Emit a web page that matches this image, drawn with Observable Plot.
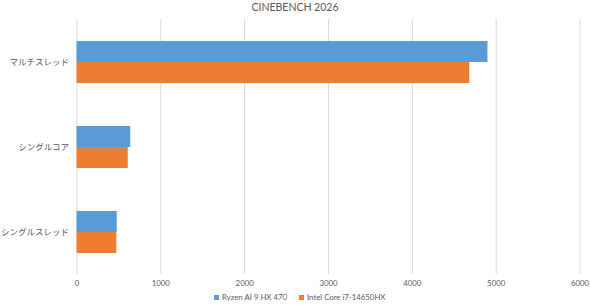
<!DOCTYPE html>
<html><head><meta charset="utf-8">
<script src="https://cdn.jsdelivr.net/npm/d3@7"></script>
<script src="https://cdn.jsdelivr.net/npm/@observablehq/plot@0.6"></script>
<style>
body{margin:0;background:#fff;font-family:Lato,"Noto Sans CJK JP",sans-serif;}
#wrap{position:relative;width:590px;height:305px;}
#title{position:absolute;top:1px;left:0;width:590px;text-align:center;font-size:10.5px;color:#595959;white-space:nowrap;z-index:2;}
#legend{position:absolute;top:292px;left:0;width:590px;font-size:7.8px;color:#595959;white-space:nowrap;z-index:2;}
#legend span.sw{display:inline-block;width:5px;height:5px;margin-right:3px;vertical-align:0px;}
#chart{position:absolute;top:0;left:0;z-index:1;}
</style></head>
<body><div id="wrap"><div id="title">CINEBENCH 2026</div><div id="chart"></div><div id="legend"></div></div>
<script>
const categories = ["マルチスレッド", "シングルコア", "シングルスレッド"];
const series = ["Ryzen AI 9 HX 470", "Intel Core i7-14650HX"];
const ryzen = [4902, 641, 480];
const intel = [4685, 611, 475];
const xTicks = [0, 1000, 2000, 3000, 4000, 5000, 6000];
const colors = ["#5B9BD5", "#ED7D31"];

const data = [];
categories.forEach((c, i) => {
  data.push({cat: c, s: series[0], v: ryzen[i]});
  data.push({cat: c, s: series[1], v: intel[i]});
});

const chart = Plot.plot({
  width: 590, height: 292,
  marginLeft: 76.5, marginRight: 10.5, marginTop: 18, marginBottom: 18,
  style: {fontFamily: 'Lato,"Noto Sans CJK JP",sans-serif', color: "#595959", background: "transparent"},
  x: {domain: [0, 6000], ticks: xTicks, axis: null},
  fy: {domain: categories, padding: 0, axis: null},
  y: {domain: series, paddingInner: 0, paddingOuter: 0.94, axis: null},
  color: {domain: series, range: colors},
  marks: [
    Plot.gridX(xTicks, {stroke: "#d9d9d9", strokeOpacity: 1}),
    Plot.barX(data, {x: "v", y: "s", fy: "cat", fill: "s"}),
    Plot.axisX({ticks: xTicks, anchor: "bottom", tickSize: 0, tickPadding: 6, fontSize: 7.8, label: null, tickFormat: d => String(d)}),
    Plot.axisFy({anchor: "left", tickSize: 0, tickPadding: 8, fontSize: 8.5, label: null})
  ]
});
document.getElementById("chart").appendChild(chart);

const leg = document.getElementById("legend");
const inner = document.createElement("div");
inner.style.position = "absolute";
inner.style.left = "214px";
series.forEach((s, i) => {
  const item = document.createElement("span");
  item.style.marginRight = "12px";
  item.innerHTML = `<span class="sw" style="background:${colors[i]}"></span>${s}`;
  inner.appendChild(item);
});
leg.appendChild(inner);
</script></body></html>
